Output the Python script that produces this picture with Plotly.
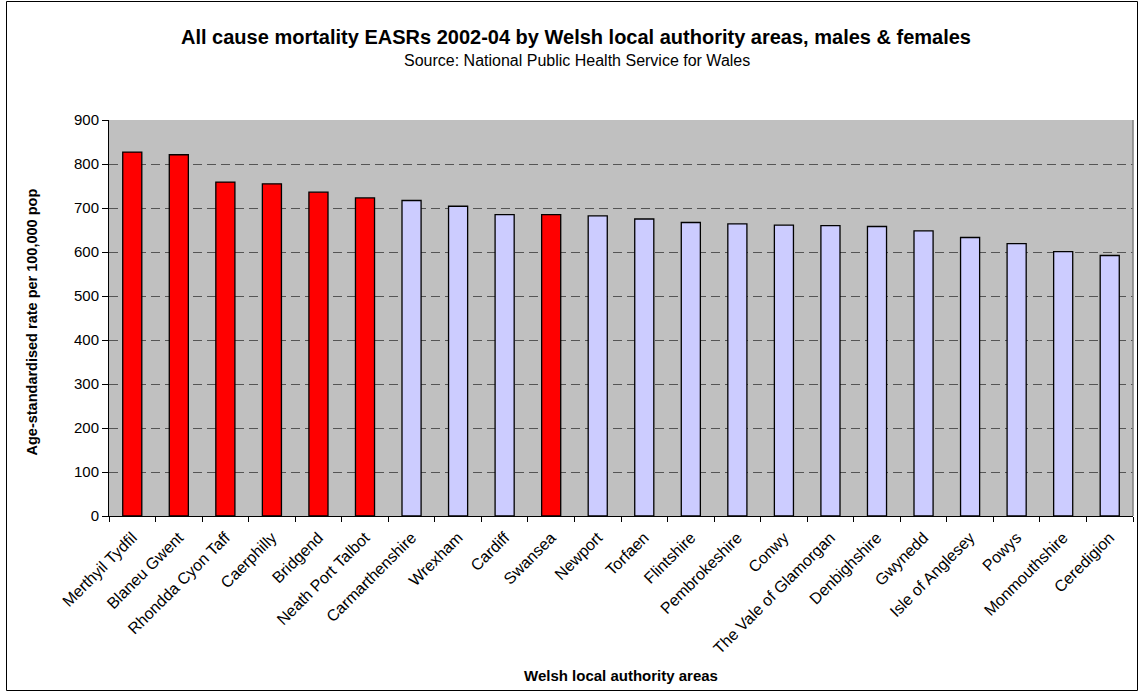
import plotly.graph_objects as go

areas = ["Merthyil Tydfil", "Blaneu Gwent", "Rhondda Cyon Taff", "Caerphilly", "Bridgend",
         "Neath Port Talbot", "Carmarthenshire", "Wrexham", "Cardiff", "Swansea", "Newport",
         "Torfaen", "Flintshire", "Pembrokeshire", "Conwy", "The Vale of Glamorgan",
         "Denbighshire", "Gwynedd", "Isle of Anglesey", "Powys", "Monmouthshire", "Ceredigion"]
rates = [827, 821, 759, 755, 736, 723, 717, 704, 685, 685, 682, 675, 667, 664, 661, 660,
         658, 648, 633, 619, 601, 592]
highlight = [True, True, True, True, True, True, False, False, False, True, False,
             False, False, False, False, False, False, False, False, False, False, False]
y_ticks = [0, 100, 200, 300, 400, 500, 600, 700, 800, 900]

RED = "#FF0000"
LILAC = "#CCCCFF"
colors = [RED if h else LILAC for h in highlight]

W, H = 1140, 698
L, R, T, B = 109, 7, 120, 182
pw, ph = W - L - R, H - T - B

def px(xp):
    return (xp - L) / pw

def py(yp):
    return (H - B - yp) / ph

fig = go.Figure()
fig.add_trace(go.Bar(
    x=areas, y=rates,
    marker=dict(color=colors, line=dict(color="#000000", width=1.3)),
    width=0.41,
    hoverinfo="x+y",
))

font = "Liberation Sans, Arial, sans-serif"
fig.update_layout(
    width=W, height=H,
    margin=dict(l=L, r=R, t=T, b=B, autoexpand=False),
    paper_bgcolor="white",
    plot_bgcolor="#C0C0C0",
    showlegend=False,
    font=dict(family=font, size=12, color="black"),
    xaxis=dict(
        type="category",
        tickangle=-45,
        tickson="boundaries",
        ticks="outside", ticklen=5, tickcolor="black",
        ticklabelstandoff=5,
        showline=True, linecolor="black", linewidth=1,
        showgrid=False,
        tickfont=dict(size=16, family=font),
        range=[-0.5, len(areas) - 0.5],
    ),
    yaxis=dict(
        range=[0, 900],
        tickvals=y_ticks,
        ticktext=[str(v) for v in y_ticks],
        ticks="outside", ticklen=6, tickcolor="black",
        showline=True, linecolor="black", linewidth=1,
        showgrid=True, gridcolor="#555555", griddash="9px,5px", gridwidth=1,
        zeroline=False,
        tickfont=dict(size=15, family=font),
    ),
    shapes=[
        dict(type="rect", xref="paper", yref="paper", x0=1, x1=1, y0=0, y1=1,
             line=dict(color="#808080", width=1)),
        dict(type="rect", xref="paper", yref="paper",
             x0=px(6.5), x1=px(1137.5), y0=py(690.5), y1=py(1.5),
             line=dict(color="black", width=1), fillcolor="rgba(0,0,0,0)", layer="below"),
    ],
    annotations=[
        dict(text="<b>All cause mortality EASRs 2002-04 by Welsh local authority areas, males &amp; females</b>",
             xref="paper", yref="paper", x=px(576), y=py(37), xanchor="center", yanchor="middle",
             showarrow=False, font=dict(size=20, family=font)),
        dict(text="Source: National Public Health Service for Wales",
             xref="paper", yref="paper", x=px(577), y=py(61), xanchor="center", yanchor="middle",
             showarrow=False, font=dict(size=16, family=font)),
        dict(text="<b>Welsh local authority areas</b>",
             xref="paper", yref="paper", x=px(621), y=py(675), xanchor="center", yanchor="middle",
             showarrow=False, font=dict(size=15, family=font)),
        dict(text="<b>Age-standardised rate per 100,000 pop</b>",
             xref="paper", yref="paper", x=px(31.5), y=py(322), xanchor="center", yanchor="middle",
             textangle=-90, showarrow=False, font=dict(size=14.5, family=font)),
    ],
)

fig.write_html("out.html",
               config={"displayModeBar": False},
               post_script="document.body.style.margin='0';document.body.style.padding='0';")
